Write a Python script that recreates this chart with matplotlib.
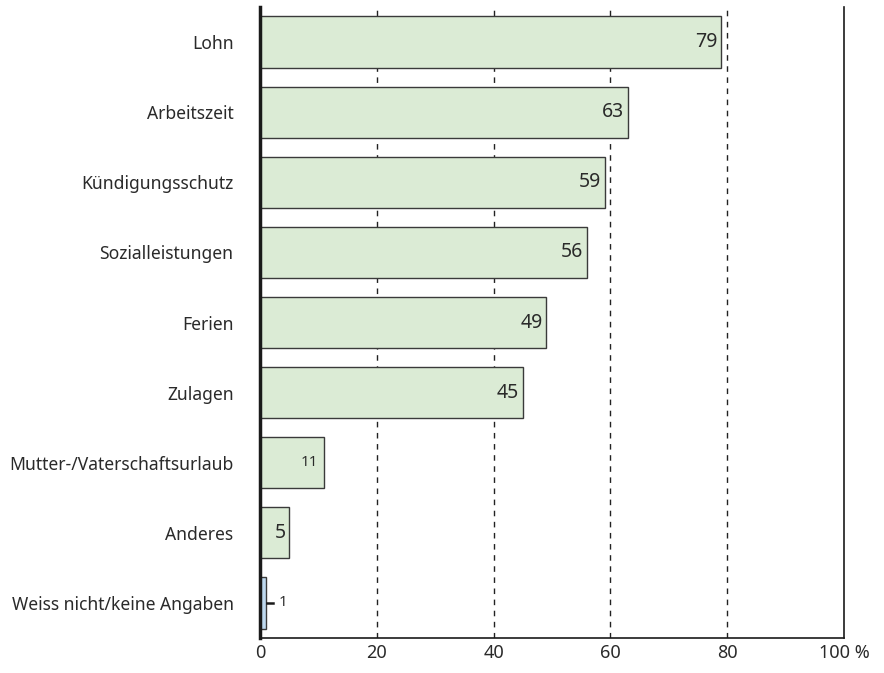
import matplotlib
matplotlib.use("Agg")
import matplotlib.pyplot as plt

categories = ["Lohn", "Arbeitszeit", "Kündigungsschutz", "Sozialleistungen", "Ferien",
              "Zulagen", "Mutter-/Vaterschaftsurlaub", "Anderes", "Weiss nicht/keine Angaben"]
values = [79, 63, 59, 56, 49, 45, 11, 5, 1]
tick_values = [0, 20, 40, 60, 80, 100]
tick_labels = ["0", "20", "40", "60", "80", "100 %"]

green = "#dbebd5"
blue = "#bed9ef"
edge = "#3a3a3a"
text_col = "#2a2a2a"

plt.rcParams['font.family'] = ['Noto Sans', 'DejaVu Sans']

fig = plt.figure(figsize=(8.84, 6.73), dpi=100)
ax = fig.add_axes([260/884, 35/673, 584/884, 631/673])

colors = [green] * (len(values) - 1) + [blue]
y = list(range(len(categories)))
ax.barh(y, values, height=0.73, color=colors, edgecolor=edge, linewidth=1.0, zorder=2)

ax.set_xlim(0, 100)
ax.set_ylim(len(categories) - 0.5, -0.5)

for xv in [20, 40, 60, 80]:
    ax.axvline(xv, color="#222222", linestyle=(0, (4, 4)), linewidth=1.0, zorder=1)

ax.set_yticks(y)
ax.set_yticklabels(categories, fontsize=12.6, color=text_col)
ax.tick_params(axis='y', length=0, pad=19)
ax.set_xticks(tick_values)
ax.set_xticklabels(tick_labels, fontsize=13, color=text_col)
ax.tick_params(axis='x', length=0, pad=4)

ax.spines["top"].set_visible(False)
ax.spines["left"].set_linewidth(2.5)
ax.spines["left"].set_color("#1a1a1a")
ax.spines["left"].set_zorder(3)
ax.spines["bottom"].set_linewidth(1.2)
ax.spines["bottom"].set_color("#1a1a1a")
ax.spines["right"].set_linewidth(1.2)
ax.spines["right"].set_color("#1a1a1a")

for i, v in enumerate(values):
    if v >= 40:
        ax.text(v - 0.6, i, str(v), ha="right", va="center", fontsize=14, color=text_col, zorder=4)
    elif v >= 8:
        ax.text(v - 1.0, i, str(v), ha="right", va="center", fontsize=11,
                fontweight="bold", color=text_col, zorder=4)
    elif v >= 3:
        ax.text(v - 0.5, i, str(v), ha="right", va="center", fontsize=14, color=text_col, zorder=4)
    else:
        ax.plot([v + 0.2, v + 1.3], [i, i], color="#1a1a1a", linewidth=1.8, zorder=4)
        ax.text(v + 2.2, i, str(v), ha="left", va="center", fontsize=11,
                fontweight="bold", color=text_col, zorder=4)

fig.savefig("out.png", dpi=100)
